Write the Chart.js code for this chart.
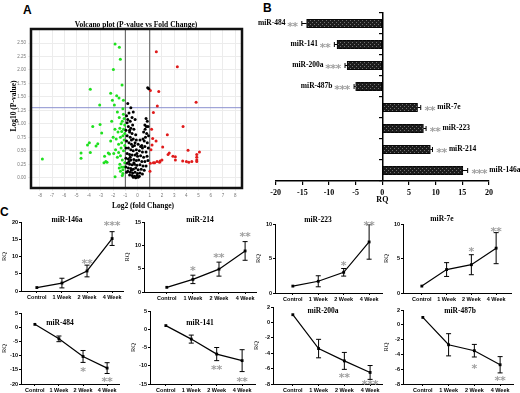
<!DOCTYPE html>
<html>
<head>
<meta charset="utf-8">
<script src="https://cdn.jsdelivr.net/npm/chart.js@4.4.1/dist/chart.umd.min.js"></script>
<style>
html, body { margin: 0; padding: 0; background: #fff; }
body { width: 520px; height: 393px; position: relative; overflow: hidden; }
.box { position: absolute; }
.box canvas { display: block; }
.tag { position: absolute; font: bold 12px "Liberation Sans", Arial, sans-serif; line-height: 14px; }
</style>
</head>
<body>
<div class="tag" style="left:23px;top:3px">A</div>
<div class="tag" style="left:263px;top:1px">B</div>
<div class="tag" style="left:0px;top:205px">C</div>
<script>
// ---- panel A: volcano plot, [log2 fold change, log10 p] ----
var volcanoGreen = [
    [-1.84, 2.48], [-1.49, 2.42], [-1.41, 2.20], [-1.98, 2.01], [-3.87, 1.64], [-1.27, 1.72],
    [-2.20, 1.57], [-1.71, 1.52], [-2.06, 1.44], [-1.52, 1.48], [-1.16, 1.44], [-3.10, 1.35],
    [-1.90, 1.35], [-1.16, 1.18], [-3.67, 0.95], [-2.12, 1.05], [-2.94, 0.83], [-3.26, 0.63],
    [-3.40, 0.59], [-3.87, 0.47], [-4.63, 0.46], [-4.63, 0.36], [-2.70, 0.40], [-2.60, 0.30],
    [-2.75, 0.28], [-2.50, 0.29], [-1.80, 0.52], [-1.95, 0.45], [-1.55, 0.47], [-1.40, 0.41],
    [-1.30, 0.20], [-1.20, 0.08], [-1.25, 0.04], [-7.80, 0.35], [-3.07, 0.99], [-2.30, 0.44],
    [-2.40, 0.46], [-1.84, 0.02], [-1.50, 0.18], [-1.40, 0.12], [-1.20, 0.15], [-1.10, 0.20],
    [-1.10, 1.10], [-1.25, 1.05], [-1.35, 1.00], [-1.05, 0.98], [-1.45, 0.92], [-1.15, 0.90],
    [-1.30, 0.86], [-1.60, 0.85], [-1.05, 0.82], [-1.20, 0.78], [-1.40, 0.75], [-1.75, 0.72],
    [-1.10, 0.70], [-1.30, 0.65], [-1.55, 0.62], [-2.00, 0.75], [-1.05, 0.60], [-1.35, 0.55],
    [-1.15, 0.50], [-1.65, 0.38], [-1.25, 0.33], [-1.05, 0.28], [-1.45, 0.25], [-2.20, 0.68],
    [-1.85, 0.90], [-1.50, 1.12], [-1.65, 1.22], [-1.20, 1.28], [-4.10, 0.61], [-3.95, 0.65]
];
var volcanoRed = [
    [1.54, 2.34], [3.26, 2.06], [1.05, 1.62], [1.74, 1.60], [4.80, 1.40], [1.62, 1.33],
    [1.30, 1.21], [3.73, 0.95], [2.44, 0.80], [1.24, 0.73], [1.52, 0.68], [1.19, 0.61],
    [2.06, 0.57], [4.14, 0.51], [5.07, 0.48], [2.50, 0.43], [3.10, 0.39], [3.10, 0.33],
    [4.85, 0.43], [4.85, 0.38], [4.85, 0.33], [4.85, 0.30], [3.70, 0.31], [4.00, 0.30],
    [4.20, 0.29], [4.45, 0.30], [1.30, 0.28], [1.60, 0.30], [1.85, 0.31], [2.00, 0.33],
    [1.05, 0.27], [2.60, 0.46], [2.90, 0.40], [1.80, 0.29], [1.40, 0.28], [1.02, 0.12],
    [1.10, 0.52], [1.15, 0.90]
];
var volcanoBlack = [
    [0.83, 1.67], [0.92, 1.65], [-0.80, 1.38], [-0.55, 1.30], [-0.35, 1.22], [-0.70, 1.20],
    [-0.90, 1.15], [-0.45, 1.12], [-0.20, 1.08], [-0.60, 1.05], [-0.85, 1.02], [0.70, 1.10],
    [0.80, 1.05], [0.60, 0.98], [0.85, 0.95], [-0.40, 0.98], [-0.75, 0.95], [-0.55, 0.92],
    [-0.30, 0.90], [-0.95, 0.88], [-0.65, 0.85], [-0.45, 0.82], [-0.15, 0.80], [0.50, 0.85],
    [0.75, 0.82], [0.90, 0.78], [0.65, 0.75], [0.45, 0.72], [-0.85, 0.78], [-0.60, 0.75],
    [-0.35, 0.72], [-0.10, 0.70], [0.20, 0.70], [0.55, 0.68], [0.80, 0.65], [-0.90, 0.68],
    [-0.70, 0.65], [-0.50, 0.62], [-0.25, 0.60], [0.05, 0.62], [0.35, 0.60], [0.60, 0.58],
    [0.88, 0.55], [-0.95, 0.55], [-0.75, 0.55], [-0.55, 0.52], [-0.35, 0.50], [-0.10, 0.52],
    [0.15, 0.50], [0.40, 0.48], [0.70, 0.48], [-0.85, 0.45], [-0.65, 0.43], [-0.45, 0.42],
    [-0.20, 0.42], [0.00, 0.40], [0.25, 0.41], [0.50, 0.38], [0.78, 0.40], [-0.95, 0.36],
    [-0.75, 0.35], [-0.55, 0.33], [-0.30, 0.34], [-0.10, 0.32], [0.10, 0.33], [0.35, 0.30],
    [0.60, 0.30], [0.85, 0.32], [-0.85, 0.27], [-0.65, 0.25], [-0.45, 0.24], [-0.25, 0.25],
    [-0.05, 0.23], [0.20, 0.24], [0.45, 0.22], [0.70, 0.22], [-0.95, 0.20], [-0.75, 0.18],
    [-0.55, 0.17], [-0.35, 0.16], [-0.15, 0.18], [0.05, 0.15], [0.30, 0.16], [0.55, 0.14],
    [-0.80, 0.12], [-0.60, 0.10], [-0.40, 0.09], [-0.20, 0.10], [0.00, 0.08], [0.20, 0.09],
    [0.40, 0.07], [-0.65, 0.05], [-0.45, 0.04], [-0.25, 0.03], [-0.05, 0.04], [0.15, 0.03],
    [-0.35, 0.01], [-0.15, 0.00], [0.05, 0.01], [-0.50, 0.14], [-0.30, 0.28], [-0.60, 0.38],
    [-0.40, 0.58], [-0.20, 0.65], [-0.50, 0.70], [-0.65, 0.88], [-0.80, 1.08], [0.62, 0.90],
    [0.72, 0.95], [0.40, 0.55], [0.25, 0.58], [-0.05, 0.45], [-0.70, 0.30], [-0.90, 0.10]
];
var volcanoXTicks = [-8, -7, -6, -5, -4, -3, -2, -1, 0, 1, 2, 3, 4, 5, 6, 7, 8];
var volcanoYTicks = [0, 0.25, 0.5, 0.75, 1, 1.25, 1.5, 1.75, 2, 2.25, 2.5];
var volcanoPCut = 1.3;
var volcanoFcCut = [-1, 1];

// ---- panel B: RQ bars ----
var bLabels = ['miR-484', 'miR-141', 'miR-200a', 'miR-487b', 'miR-7e', 'miR-223', 'miR-214', 'miR-146a'];
var bValues = [-14.2, -8.5, -6.6, -5.0, 6.6, 7.7, 9.0, 15.1];
var bErrors = [0.9, 0.5, 0.4, 0.3, 0.6, 0.5, 0.4, 0.9];
var bStars = [2, 2, 3, 3, 2, 2, 2, 3];

// ---- panel C: time courses ----
var timeLabels = ['Control', '1 Week', '2 Week', '4 Week'];
var cNames = ['miR-146a', 'miR-214', 'miR-223', 'miR-7e', 'miR-484', 'miR-141', 'miR-200a', 'miR-487b'];
var cMeans = [
    [1, 2.3, 5.8, 15.2],
    [1, 2.7, 4.9, 8.8],
    [1, 1.7, 3.0, 7.4],
    [1, 3.4, 4.1, 6.5],
    [1, -4.1, -10.3, -14.4],
    [1, -2.7, -6.8, -8.6],
    [1, -3.4, -5.0, -6.5],
    [1, -2.7, -3.5, -5.4]
];
var cErrors = [
    [0, 1.4, 1.7, 2.0],
    [0, 0.9, 1.5, 2.0],
    [0, 0.8, 0.55, 2.5],
    [0, 1.0, 1.45, 2.25],
    [0, 1.0, 2.1, 1.9],
    [0, 1.1, 1.8, 3.0],
    [0, 1.2, 1.1, 0.9],
    [0, 1.5, 0.85, 1.1]
];
var cStars = [
    [0, 0, 2, 3],
    [0, 1, 2, 2],
    [0, 0, 1, 2],
    [0, 0, 1, 2],
    [0, 0, 1, 2],
    [0, 0, 2, 2],
    [0, 0, 2, 3],
    [0, 0, 1, 2]
];
var cStarY = [
    [null, null, 8.9, 20.0],
    [null, 5.3, 8.0, 12.6],
    [null, null, 4.4, 10.2],
    [null, null, 6.4, 9.3],
    [null, null, -14.6, -18.0],
    [null, null, -10.3, -13.5],
    [null, null, -6.8, -7.7],
    [null, null, -5.5, -7.1]
];
var cTicks = [
    [0, 5, 10, 15, 20], [0, 5, 10, 15], [0, 5, 10], [0, 5, 10],
    [-20, -15, -10, -5, 0, 5], [-15, -10, -5, 0, 5], [-8, -6, -4, -2, 0, 2], [-8, -6, -4, -2, 0, 2]
];

(function () {
    'use strict';

    var SERIF = '"Liberation Serif", "Times New Roman", serif';
    var SANS = '"Liberation Sans", Arial, sans-serif';
    var STAR_GRAY = '#a0a0a0';

    // pixel placement of the panels (page coordinates)
    var cLayout = [
        { ax: 21, ctrl: 37, wk4: 113, right: 124, top: 222, bottom: 291, tx: 67, ty: 220 },
        { ax: 144, ctrl: 167, wk4: 246, right: 257, top: 222, bottom: 292, tx: 200, ty: 220 },
        { ax: 275, ctrl: 293, wk4: 370, right: 383, top: 224, bottom: 293, tx: 318, ty: 220 },
        { ax: 403, ctrl: 422, wk4: 497, right: 512, top: 224, bottom: 293, tx: 442, ty: 219 },
        { ax: 21, ctrl: 35, wk4: 108, right: 120, top: 313, bottom: 384, tx: 60, ty: 323 },
        { ax: 150, ctrl: 166, wk4: 243, right: 256, top: 311, bottom: 384, tx: 200, ty: 323 },
        { ax: 273, ctrl: 293, wk4: 371, right: 383, top: 307, bottom: 384, tx: 323, ty: 311 },
        { ax: 403, ctrl: 423, wk4: 501, right: 514, top: 310, bottom: 384, tx: 460, ty: 311 }
    ];

    Chart.defaults.animation = false;
    Chart.defaults.events = [];
    Chart.defaults.plugins.legend.display = false;
    Chart.defaults.plugins.tooltip.enabled = false;

    function makeCanvas(left, top, w, h) {
        var box = document.createElement('div');
        box.className = 'box';
        box.style.left = left + 'px';
        box.style.top = top + 'px';
        var c = document.createElement('canvas');
        c.width = w;
        c.height = h;
        c.style.width = w + 'px';
        c.style.height = h + 'px';
        box.appendChild(c);
        document.body.appendChild(box);
        return c;
    }

    function toXY(list) {
        return list.map(function (p) { return { x: p[0], y: p[1] }; });
    }

    function fixedTicks(values) {
        return function (scale) {
            scale.ticks = values.map(function (v) { return { value: v }; });
        };
    }

    function drawStars(ctx, cx, cy, n, pitch) {
        var size = 11;
        ctx.save();
        ctx.fillStyle = STAR_GRAY;
        ctx.font = 'bold ' + size + 'px "DejaVu Sans", sans-serif';
        ctx.textAlign = 'center';
        ctx.textBaseline = 'alphabetic';
        var x0 = cx - (n - 1) * pitch / 2;
        for (var k = 0; k < n; k++) {
            ctx.fillText('*', x0 + k * pitch, cy + size * 0.6);
        }
        ctx.restore();
    }

    // ---------- A ----------
    function buildVolcano() {
        var canvas = makeCanvas(0, 0, 250, 215);
        var framePlugin = {
            id: 'volcanoFrame',
            beforeDatasetsDraw: function (chart) {
                var ctx = chart.ctx, a = chart.chartArea;
                var xs = chart.scales.x, ys = chart.scales.y;
                ctx.save();
                ctx.lineWidth = 1;
                ctx.strokeStyle = '#8a90cf';
                var yp = ys.getPixelForValue(volcanoPCut);
                ctx.beginPath();
                ctx.moveTo(a.left, yp);
                ctx.lineTo(a.right, yp);
                ctx.stroke();
                ctx.strokeStyle = '#555';
                volcanoFcCut.forEach(function (v) {
                    var xp = xs.getPixelForValue(v);
                    ctx.beginPath();
                    ctx.moveTo(xp, a.top);
                    ctx.lineTo(xp, a.bottom);
                    ctx.stroke();
                });
                ctx.restore();
            },
            afterDraw: function (chart) {
                var ctx = chart.ctx, a = chart.chartArea;
                ctx.save();
                ctx.strokeStyle = '#111';
                ctx.lineWidth = 2.5;
                ctx.strokeRect(a.left, a.top, a.right - a.left, a.bottom - a.top);
                ctx.fillStyle = '#000';
                ctx.font = 'bold 7.5px ' + SERIF;
                ctx.textAlign = 'center';
                ctx.textBaseline = 'middle';
                ctx.fillText('Volcano plot (P-value vs Fold Change)', 136, 25);
                ctx.fillText('Log2 (fold Change)', 143, 206);
                ctx.translate(14, 106);
                ctx.rotate(-Math.PI / 2);
                ctx.fillText('Log10 (P-value)', 0, 0);
                ctx.restore();
            }
        };
        new Chart(canvas, {
            type: 'scatter',
            data: {
                datasets: [
                    { data: toXY(volcanoBlack), backgroundColor: '#000', pointRadius: 1.5, borderWidth: 0 },
                    { data: toXY(volcanoGreen), backgroundColor: '#1fe01f', pointRadius: 1.5, borderWidth: 0 },
                    { data: toXY(volcanoRed), backgroundColor: '#e01b1b', pointRadius: 1.5, borderWidth: 0 }
                ]
            },
            options: {
                responsive: false,
                layout: { padding: { top: 29, right: 8, left: 0, bottom: 0 } },
                scales: {
                    x: {
                        type: 'linear',
                        min: -8.73,
                        max: 8.56,
                        afterBuildTicks: fixedTicks(volcanoXTicks),
                        afterFit: function (s) { s.height = 27; },
                        grid: { color: '#ececec', tickLength: 3 },
                        border: { display: false },
                        ticks: { font: { size: 4.5, family: SANS }, color: '#777', padding: 2, maxRotation: 0, autoSkip: false }
                    },
                    y: {
                        type: 'linear',
                        min: -0.19,
                        max: 2.76,
                        afterBuildTicks: fixedTicks(volcanoYTicks),
                        afterFit: function (s) { s.width = 31; },
                        grid: { color: '#ececec', tickLength: 3 },
                        border: { display: false },
                        ticks: {
                            font: { size: 4.5, family: SANS },
                            color: '#777',
                            padding: 2,
                            autoSkip: false,
                            callback: function (v) { return Number(v).toFixed(2); }
                        }
                    }
                }
            },
            plugins: [framePlugin]
        });
    }

    // ---------- B ----------
    function buildBars() {
        var canvas = makeCanvas(238, 0, 282, 205);
        var ctx0 = canvas.getContext('2d');
        var tile = document.createElement('canvas');
        tile.width = 4;
        tile.height = 4;
        var g = tile.getContext('2d');
        g.fillStyle = '#1c1c1c';
        g.fillRect(0, 0, 4, 4);
        g.fillStyle = '#707070';
        g.fillRect(0, 0, 1, 1);
        g.fillRect(2, 2, 1, 1);
        var hatch = ctx0.createPattern(tile, 'repeat');

        var labelPlugin = {
            id: 'barLabels',
            afterDatasetsDraw: function (chart) {
                var ctx = chart.ctx, xs = chart.scales.x, ys = chart.scales.y;
                ctx.save();
                ctx.strokeStyle = '#000';
                ctx.lineWidth = 1;
                for (var i = 0; i < bValues.length; i++) {
                    var v = bValues[i], e = bErrors[i];
                    var dir = v < 0 ? -1 : 1;
                    var y = ys.getPixelForValue(i);
                    var x0 = xs.getPixelForValue(v);
                    var x1 = xs.getPixelForValue(v + dir * e);
                    ctx.beginPath();
                    ctx.moveTo(x0, y);
                    ctx.lineTo(x1, y);
                    ctx.moveTo(x1, y - 2.5);
                    ctx.lineTo(x1, y + 2.5);
                    ctx.stroke();

                    var n = bStars[i], pitch = 5.2, gap = 4;
                    var groupW = n * pitch;
                    var cx = x1 + dir * (gap + groupW / 2);
                    drawStars(ctx, cx, y, n, pitch);

                    ctx.fillStyle = '#000';
                    ctx.font = 'bold 7.5px ' + SERIF;
                    ctx.textBaseline = 'middle';
                    ctx.textAlign = dir < 0 ? 'right' : 'left';
                    ctx.fillText(bLabels[i], x1 + dir * (gap + groupW + 2), y);
                }
                ctx.restore();
            }
        };

        new Chart(canvas, {
            type: 'bar',
            data: {
                labels: bLabels,
                datasets: [{
                    data: bValues,
                    backgroundColor: hatch,
                    borderColor: '#000',
                    borderWidth: 0.8,
                    borderSkipped: false,
                    barThickness: 8.5
                }]
            },
            options: {
                responsive: false,
                indexAxis: 'y',
                layout: { padding: { top: 13, right: 31, left: 37.7, bottom: 0 } },
                scales: {
                    x: {
                        type: 'linear',
                        min: -20,
                        max: 20,
                        afterFit: function (s) { s.height = 24; },
                        grid: { drawOnChartArea: false, tickLength: 4, color: '#000', lineWidth: 1.2 },
                        border: { display: true, color: '#000', width: 1.5 },
                        ticks: { stepSize: 5, color: '#000', padding: 3, font: { size: 8, weight: 'bold', family: SERIF } },
                        title: { display: true, text: 'RQ', color: '#000', padding: { top: 0, bottom: 0 }, font: { size: 8, weight: 'bold', family: SERIF } }
                    },
                    y: {
                        type: 'category',
                        position: { x: 0 },
                        grid: { drawOnChartArea: false, drawTicks: true, tickLength: 3, offset: true, color: '#000', lineWidth: 1.2 },
                        border: { display: true, color: '#000', width: 1.5 },
                        ticks: { display: false }
                    }
                }
            },
            plugins: [labelPlugin]
        });
    }

    // ---------- C ----------
    function buildTimeCourse(i) {
        var L = cLayout[i];
        var left = L.ax - 21;
        var top = L.top - 10;
        var w = L.right - left + 3;
        var h = L.bottom - top + 13;
        var canvas = makeCanvas(left, top, w, h);
        var step = (L.wk4 - L.ctrl) / 3;
        var xMin = -(L.ctrl - L.ax) / step;
        var xMax = xMin + (L.right - L.ax) / step;
        var ticks = cTicks[i];
        var means = cMeans[i], errs = cErrors[i];

        var errPlugin = {
            id: 'errStars',
            afterDatasetsDraw: function (chart) {
                var ctx = chart.ctx, xs = chart.scales.x, ys = chart.scales.y;
                ctx.save();
                ctx.strokeStyle = '#000';
                ctx.lineWidth = 1;
                for (var j = 0; j < means.length; j++) {
                    var x = xs.getPixelForValue(j);
                    if (errs[j]) {
                        var yt = ys.getPixelForValue(means[j] + errs[j]);
                        var yb = ys.getPixelForValue(means[j] - errs[j]);
                        ctx.beginPath();
                        ctx.moveTo(x, yt);
                        ctx.lineTo(x, yb);
                        ctx.moveTo(x - 2.5, yt);
                        ctx.lineTo(x + 2.5, yt);
                        ctx.moveTo(x - 2.5, yb);
                        ctx.lineTo(x + 2.5, yb);
                        ctx.stroke();
                    }
                    if (cStars[i][j]) {
                        drawStars(ctx, x, ys.getPixelForValue(cStarY[i][j]), cStars[i][j], 5.5);
                    }
                }
                ctx.fillStyle = '#000';
                ctx.font = 'bold 7.5px ' + SERIF;
                ctx.textAlign = 'center';
                ctx.textBaseline = 'middle';
                ctx.fillText(cNames[i], L.tx - left, L.ty - top);
                ctx.restore();
            }
        };

        new Chart(canvas, {
            type: 'line',
            data: {
                datasets: [{
                    data: means.map(function (v, j) { return { x: j, y: v }; }),
                    borderColor: '#000',
                    borderWidth: 1.2,
                    backgroundColor: '#000',
                    pointStyle: 'rect',
                    pointRadius: 2,
                    pointBorderWidth: 0,
                    tension: 0,
                    clip: false
                }]
            },
            options: {
                responsive: false,
                layout: { padding: { top: 10, right: 3, left: 0, bottom: 0 } },
                scales: {
                    x: {
                        type: 'linear',
                        min: xMin,
                        max: xMax,
                        afterBuildTicks: fixedTicks([0, 1, 2, 3]),
                        afterFit: function (s) { s.height = 13; },
                        grid: { drawOnChartArea: false, tickLength: 2, color: '#000' },
                        border: { display: true, color: '#000', width: 1 },
                        ticks: {
                            color: '#000',
                            padding: 1,
                            maxRotation: 0,
                            autoSkip: false,
                            font: { size: 5.5, weight: 'bold', family: SANS },
                            callback: function (v) { return timeLabels[v]; }
                        }
                    },
                    y: {
                        type: 'linear',
                        min: ticks[0],
                        max: ticks[ticks.length - 1],
                        afterBuildTicks: fixedTicks(ticks),
                        afterFit: function (s) { s.width = 21; },
                        grid: { drawOnChartArea: false, tickLength: 2, color: '#000' },
                        border: { display: true, color: '#000', width: 1 },
                        ticks: { color: '#000', padding: 1, autoSkip: false, font: { size: 5.5, weight: 'bold', family: SANS } },
                        title: { display: true, text: 'RQ', color: '#000', padding: 0, font: { size: 6.5, family: SERIF } }
                    }
                }
            },
            plugins: [errPlugin]
        });
    }

    function boot() {
        buildVolcano();
        buildBars();
        for (var i = 0; i < cNames.length; i++) {
            buildTimeCourse(i);
        }
    }

    if (document.readyState === 'loading') {
        document.addEventListener('DOMContentLoaded', boot);
    } else {
        boot();
    }
})();
</script>
</body>
</html>
